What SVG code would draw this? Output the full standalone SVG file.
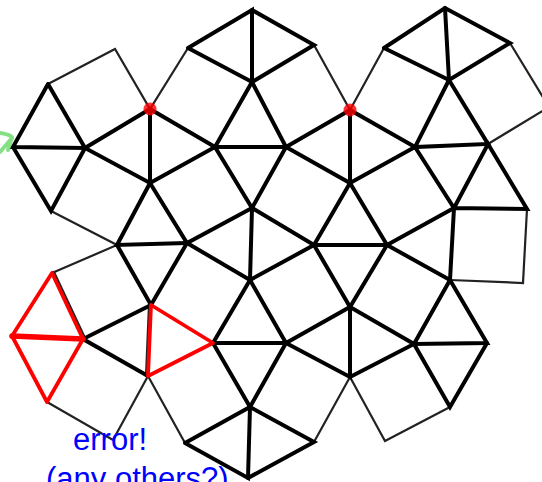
<svg xmlns="http://www.w3.org/2000/svg" width="542" height="482" viewBox="0 0 542 482">
<style>
.k{stroke:#000;stroke-width:4;stroke-linecap:round;fill:none}
.t{stroke:#222;stroke-width:2.2;stroke-linecap:round;fill:none}
.r{stroke:#f00;stroke-width:3.8;stroke-linecap:round;stroke-linejoin:round;fill:none}
.lbl{font-family:"Liberation Sans",Arial,sans-serif;font-size:31px;fill:#00f}
</style>
<rect width="542" height="482" fill="#fff"/>
<g id="connectors">
<g id="thin-edges" class="t">
<path d="M48,84L115,49L150,109L188,48"/>
<path d="M314,45L350,110L384,48"/>
<path d="M510,43L549,107L488,144"/>
<path d="M527,209L523,283L450,280"/>
<path d="M51,211L117,245L52,273"/>
<path d="M47,402L113,440L148,376L185,443"/>
<path d="M314,442L350,377L385,441L450,407"/>
<path d="M54,272L85,338"/>
<path d="M149,305L146,376"/>
</g>
<g id="thick-edges" class="k">
<path d="M48,84L13,147L85,148L48,84"/>
<path d="M13,147L51,211L85,148"/>
<path d="M150,109L85,148L150,183L150,109L215,147L150,183"/>
<path d="M188,48L252,10L252,82L188,48"/>
<path d="M252,10L314,45L252,82L215,147L286,147L252,82"/>
<path d="M286,147L350,110"/>
<path d="M215,147L252,208L286,147"/>
<path d="M150,183L187,243L252,208"/>
<path d="M150,183L117,245L187,243"/>
<path d="M286,147L350,183L350,110L415,147L350,183"/>
<path d="M384,48L445,8L510,43L449,80L384,48"/>
<path d="M445,8L449,80L415,147L488,144L449,80"/>
<path d="M415,147L454,208L488,144L527,209L454,208L450,280"/>
<path d="M350,183L314,245L252,208"/>
<path d="M314,245L387,245L350,183"/>
<path d="M387,245L454,208"/>
<path d="M252,208L250,280L314,245"/>
<path d="M187,243L250,280"/>
<path d="M387,245L450,280"/>
<path d="M314,245L350,307L387,245"/>
<path d="M250,280L286,343L350,307L350,377L286,343"/>
<path d="M350,307L414,344L350,377"/>
<path d="M450,280L414,344L487,343L450,280"/>
<path d="M414,344L450,407L487,343"/>
<path d="M117,245L151,305L187,243"/>
<path d="M151,305L83,339L148,376"/>
<path d="M250,280L213,343L286,343L250,407L213,343"/>
<path d="M185,443L250,407L248,478L185,443"/>
<path d="M250,407L314,442L248,478"/>
</g>
<g id="red-edges" class="r">
<path d="M52,273L12,336L47,402L83,339L52,273"/>
<path d="M12,336L83,339" stroke-width="5.5"/>
<path d="M151,305L213,343L148,376Z"/>
</g>
</g>
<g id="markers">
<circle cx="150" cy="109" r="6.5" fill="#f00" opacity="0.8"/>
<circle cx="350" cy="110" r="6.5" fill="#f00" opacity="0.8"/>
<path d="M0,133Q8,134 12,137L8,150M0,152L12,138" fill="none" stroke="#3c3" stroke-width="4" stroke-linecap="round" stroke-linejoin="round" opacity="0.6"/>
</g>
<g id="labels">
<text class="lbl" x="73" y="450">error!</text>
<text class="lbl" x="46" y="489">(any others?)</text>
</g>
</svg>
